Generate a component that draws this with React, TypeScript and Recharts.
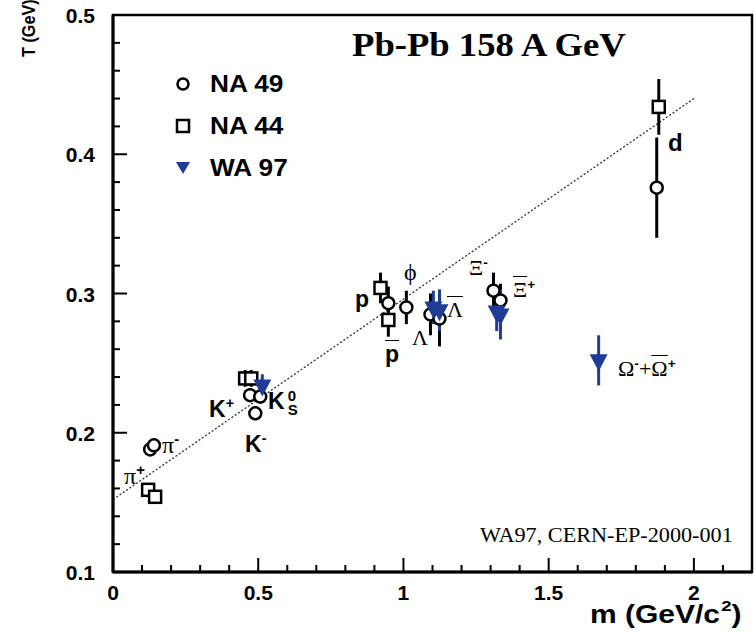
import React from 'react';
import {
  ScatterChart,
  Scatter,
  XAxis,
  YAxis,
  ErrorBar,
  ReferenceArea,
  ReferenceLine,
} from 'recharts';

// NA 49 (open circles)
const na49Mass = [0.128, 0.141, 0.472, 0.49, 0.507, 0.948, 1.01, 1.093, 1.124, 1.31, 1.334, 1.872];
const na49T = [0.188, 0.191, 0.227, 0.214, 0.226, 0.293, 0.29, 0.285, 0.282, 0.302, 0.295, 0.376];
const na49Err = [0.004, 0.004, 0.005, 0.005, 0.005, 0.012, 0.012, 0.015, 0.02, 0.013, 0.012, 0.036];

// NA 44 (open squares)
const na44Mass = [0.121, 0.145, 0.455, 0.476, 0.921, 0.948, 1.879];
const na44T = [0.159, 0.154, 0.239, 0.239, 0.304, 0.281, 0.434];
const na44Err = [0.005, 0.005, 0.006, 0.006, 0.011, 0.012, 0.02];

// WA 97 (blue down triangles)
const wa97Mass = [0.514, 1.103, 1.124, 1.321, 1.334, 1.672];
const wa97T = [0.234, 0.29, 0.288, 0.287, 0.285, 0.252];
const wa97Err = [0.008, 0.012, 0.015, 0.014, 0.018, 0.018];

// linear fit (dotted)
const fitMass = [0, 2.0];
const fitT = [0.152, 0.44];

const xTicks = [0, 0.1, 0.2, 0.3, 0.4, 0.5, 0.6, 0.7, 0.8, 0.9, 1, 1.1, 1.2, 1.3, 1.4, 1.5, 1.6, 1.7, 1.8, 1.9, 2, 2.1, 2.2];
const yTicks = [0.1, 0.12, 0.14, 0.16, 0.18, 0.2, 0.22, 0.24, 0.26, 0.28, 0.3, 0.32, 0.34, 0.36, 0.38, 0.4, 0.42, 0.44, 0.46, 0.48, 0.5];

const BLUE = '#1f3c96';
const SANS = '"Liberation Sans", Arial, sans-serif';
const SERIF = '"Liberation Serif", "Times New Roman", serif';

const toRows = (xs: number[], ts: number[], es: number[]) =>
  xs.map((x, i) => ({ x, t: ts[i], err: es[i] }));

const na49 = toRows(na49Mass, na49T, na49Err);
const na44 = toRows(na44Mass, na44T, na44Err);
const wa97 = toRows(wa97Mass, wa97T, wa97Err);

const isMajor = (v: number, step: number) => Math.abs(v / step - Math.round(v / step)) < 1e-6;

const XTick = ({ x, y, payload }: any) => {
  const major = isMajor(payload.value, 0.5);
  return (
    <g>
      <line x1={x} x2={x} y1={y} y2={y - (major ? 14 : 7)} stroke="#000" strokeWidth={2} />
      {major && (
        <text x={x} y={y + 28} textAnchor="middle" fontFamily={SANS} fontWeight="bold" fontSize={21}>
          {String(payload.value)}
        </text>
      )}
    </g>
  );
};

const YTick = ({ x, y, payload }: any) => {
  const major = isMajor(payload.value, 0.1);
  return (
    <g>
      <line x1={x} x2={x + (major ? 14 : 7)} y1={y} y2={y} stroke="#000" strokeWidth={2} />
      {major && (
        <text x={x - 18} y={y + 8} textAnchor="end" fontFamily={SANS} fontWeight="bold" fontSize={21}>
          {payload.value.toFixed(1)}
        </text>
      )}
    </g>
  );
};

const Circle = ({ cx, cy }: any) => (
  <circle cx={cx} cy={cy} r={6} fill="#fff" stroke="#000" strokeWidth={2.5} />
);
const Square = ({ cx, cy }: any) => (
  <rect x={cx - 6} y={cy - 6} width={12} height={12} fill="#fff" stroke="#000" strokeWidth={2.5} />
);
const Triangle = ({ cx, cy }: any) => (
  <path d={`M${cx - 9},${cy - 6} L${cx + 9},${cy - 6} L${cx},${cy + 11} Z`} fill={BLUE} />
);

const legendItems = [
  { name: 'NA 49', icon: <circle cx={10} cy={10} r={5.5} fill="#fff" stroke="#000" strokeWidth={2.5} /> },
  { name: 'NA 44', icon: <rect x={4} y={4} width={12} height={12} fill="#fff" stroke="#000" strokeWidth={2.5} /> },
  { name: 'WA 97', icon: <path d="M3,4 L17,4 L10,16 Z" fill={BLUE} /> },
];

const lbl = (left: number, top: number, font: string, size: number, bold = false, sx = 1): React.CSSProperties => ({
  position: 'absolute',
  left,
  top,
  fontFamily: font,
  fontSize: size,
  fontWeight: bold ? 'bold' : 'normal',
  lineHeight: 1,
  whiteSpace: 'nowrap',
  color: '#000',
  transform: sx !== 1 ? `scaleX(${sx})` : undefined,
  transformOrigin: '0 0',
});

const sup: React.CSSProperties = { fontSize: '0.62em', verticalAlign: '0.6em', fontFamily: SANS, fontWeight: 'bold' };
const over: React.CSSProperties = { textDecoration: 'overline', textDecorationThickness: 1 };

export default function App() {
  return (
    <div style={{ position: 'absolute', left: 0, top: 0, width: 754, height: 634, background: '#fff', overflow: 'hidden' }}>
      <ScatterChart width={754} height={634} margin={{ top: 15, right: 2, bottom: 0, left: 0 }}>
        <XAxis
          type="number"
          dataKey="x"
          domain={[0, 2.2]}
          ticks={xTicks}
          interval={0}
          height={62}
          tickSize={0}
          tickMargin={0}
          tickLine={false}
          tick={<XTick />}
          axisLine={{ stroke: '#000', strokeWidth: 3 }}
          allowDataOverflow
        />
        <YAxis
          type="number"
          dataKey="t"
          domain={[0.1, 0.5]}
          ticks={yTicks}
          interval={0}
          width={113}
          tickSize={0}
          tickMargin={0}
          tickLine={false}
          tick={<YTick />}
          axisLine={{ stroke: '#000', strokeWidth: 3 }}
          allowDataOverflow
        />
        <ReferenceArea x1={0} x2={2.2} y1={0.1} y2={0.5} fill="none" stroke="#000" strokeWidth={2.5} ifOverflow="visible" />
        <ReferenceLine
          segment={[
            { x: fitMass[0], y: fitT[0] },
            { x: fitMass[1], y: fitT[1] },
          ]}
          stroke="#333"
          strokeWidth={1.3}
          strokeDasharray="2 2"
        />
        <Scatter name="NA 44" data={na44} shape={<Square />} isAnimationActive={false}>
          <ErrorBar dataKey="err" direction="y" width={0} stroke="#000" strokeWidth={3} />
        </Scatter>
        <Scatter name="NA 49" data={na49} shape={<Circle />} isAnimationActive={false}>
          <ErrorBar dataKey="err" direction="y" width={0} stroke="#000" strokeWidth={3} />
        </Scatter>
        <Scatter name="WA 97" data={wa97} shape={<Triangle />} isAnimationActive={false}>
          <ErrorBar dataKey="err" direction="y" width={0} stroke={BLUE} strokeWidth={3} />
        </Scatter>
      </ScatterChart>

      {/* y-axis title */}
      <div
        style={{
          position: 'absolute',
          left: 18,
          top: 0,
          height: 60,
          writingMode: 'vertical-rl',
          transform: 'rotate(180deg) scaleY(0.9)',
          fontFamily: SANS,
          fontWeight: 'bold',
          fontSize: 18,
          lineHeight: 1.25,
          whiteSpace: 'nowrap',
          textAlign: 'center',
        }}
      >
        T (GeV)
      </div>

      {/* legend */}
      <div style={{ position: 'absolute', left: 173, top: 63 }}>
        {legendItems.map((it) => (
          <div key={it.name} style={{ display: 'flex', alignItems: 'center', height: 42 }}>
            <svg width={20} height={20} style={{ marginRight: 17 }}>{it.icon}</svg>
            <span style={{ fontFamily: SANS, fontWeight: 'bold', fontSize: 23, display: 'inline-block', transform: 'scaleX(1.14)', transformOrigin: '0 50%' }}>
              {it.name}
            </span>
          </div>
        ))}
      </div>

      <div style={lbl(352, 29, SERIF, 33, true, 1.11)}>Pb-Pb 158 A GeV</div>
      <div style={lbl(480, 525, SERIF, 20, false, 1.11)}>WA97, CERN-EP-2000-001</div>
      <div style={lbl(590, 598, SANS, 25, true, 1.2)}>
        m (GeV/c<span style={{ fontSize: '0.62em', verticalAlign: '0.75em', marginLeft: 1 }}>2</span>)
      </div>

      {/* particle labels */}
      <div style={lbl(124, 463, SERIF, 24)}>π<span style={sup}>+</span></div>
      <div style={lbl(162, 432, SERIF, 24)}>π<span style={sup}>-</span></div>
      <div style={lbl(209, 396, SANS, 23, true)}>K<span style={sup}>+</span></div>
      <div style={lbl(268, 389, SANS, 23, true)}>
        K
        <span style={{ display: 'inline-block', fontSize: 15, lineHeight: 0.9, verticalAlign: '-6px', marginLeft: 3 }}>
          0<br />S
        </span>
      </div>
      <div style={lbl(245, 431, SANS, 23, true)}>K<span style={sup}>-</span></div>
      <div style={lbl(355, 288, SANS, 23, true)}>p</div>
      <div style={lbl(385, 343, SANS, 23, true)}><span style={over}>p</span></div>
      <div style={lbl(412, 327, SERIF, 22)}>Λ</div>
      <div style={lbl(404, 260, SERIF, 24)}>ϕ</div>
      <div style={lbl(447, 299, SERIF, 22)}><span style={over}>Λ</span></div>
      <div style={lbl(469, 256, SERIF, 22)}>Ξ<span style={sup}>-</span></div>
      <div style={lbl(513, 278, SERIF, 22)}><span style={over}>Ξ</span><span style={sup}>+</span></div>
      <div style={lbl(668, 131, SANS, 24, true)}>d</div>
      <div style={lbl(618, 357, SERIF, 22)}>
        Ω<span style={sup}>-</span>+<span style={over}>Ω</span><span style={sup}>+</span>
      </div>
    </div>
  );
}
